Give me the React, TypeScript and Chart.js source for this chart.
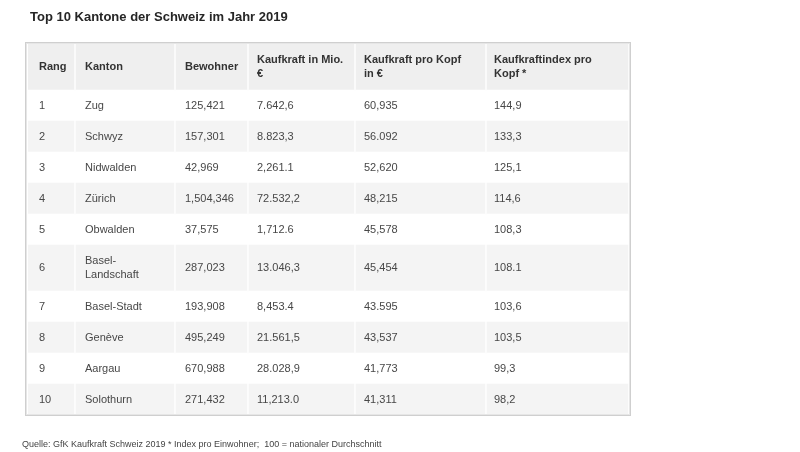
import React, { useEffect, useRef } from "react";
import { Chart, registerables } from "chart.js";

Chart.register(...registerables);

// ---- data ----
const title = "Top 10 Kantone der Schweiz im Jahr 2019";
const footnote = "Quelle: GfK Kaufkraft Schweiz 2019 * Index pro Einwohner;  100 = nationaler Durchschnitt";
const headers = [
  ["Rang"],
  ["Kanton"],
  ["Bewohner"],
  ["Kaufkraft in Mio.", "€"],
  ["Kaufkraft pro Kopf", "in €"],
  ["Kaufkraftindex pro", "Kopf *"],
];
const ranks = ["1", "2", "3", "4", "5", "6", "7", "8", "9", "10"];
const kantone = ["Zug", "Schwyz", "Nidwalden", "Zürich", "Obwalden", "Basel-\nLandschaft", "Basel-Stadt", "Genève", "Aargau", "Solothurn"];
const bewohner = ["125,421", "157,301", "42,969", "1,504,346", "37,575", "287,023", "193,908", "495,249", "670,988", "271,432"];
const kaufkraftMio = ["7.642,6", "8.823,3", "2,261.1", "72.532,2", "1,712.6", "13.046,3", "8,453.4", "21.561,5", "28.028,9", "11,213.0"];
const kaufkraftProKopf = ["60,935", "56.092", "52,620", "48,215", "45,578", "45,454", "43.595", "43,537", "41,773", "41,311"];
const kaufkraftIndex = ["144,9", "133,3", "125,1", "114,6", "108,3", "108.1", "103,6", "103,5", "99,3", "98,2"];

// ---- layout (not data) ----
const colEdges = [0, 48, 148, 221, 328, 459, 602];
const colPad = [11, 9, 9, 8, 8, 7];
const rowHeights = [46, 31, 31, 31, 31, 31, 46, 31, 31, 31, 31];
const cellGap = 2;
const FONT = "'Liberation Sans', Arial, Helvetica, sans-serif";

const columns = [ranks, kantone, bewohner, kaufkraftMio, kaufkraftProKopf, kaufkraftIndex];

export default function App() {
  const ref = useRef<HTMLCanvasElement | null>(null);

  useEffect(() => {
    if (!ref.current) return;
    const rowEdges: number[] = [0];
    rowHeights.forEach((h, i) => rowEdges.push(rowEdges[i] + h));
    const total = rowEdges[rowEdges.length - 1];

    const datasets = columns.map((col, c) => {
      const w = colEdges[c + 1] - colEdges[c] - cellGap;
      const cx = colEdges[c] + w / 2;
      const cells = [headers[c].join("\n"), ...col];
      return {
        label: headers[c].join(" "),
        data: cells.map((_, r) => ({ x: cx, y: [rowEdges[r], rowEdges[r + 1]] })),
        cellText: cells,
        cellPad: colPad[c],
        barThickness: w,
        grouped: false,
        borderWidth: 0,
        borderSkipped: false,
        backgroundColor: (ctx: any) =>
          ctx.dataIndex === 0 ? "#efefef" : ctx.dataIndex % 2 === 0 ? "#f4f4f4" : "#ffffff",
      };
    });

    const tablePlugin = {
      id: "tableText",
      beforeDatasetsDraw(chart: any) {
        const { ctx, chartArea } = chart;
        ctx.save();
        ctx.fillStyle = "#ffffff";
        ctx.fillRect(chartArea.left, chartArea.top, chartArea.right - chartArea.left, chartArea.bottom - chartArea.top);
        ctx.restore();
      },
      afterDatasetsDraw(chart: any) {
        const { ctx, chartArea } = chart;
        ctx.save();
        // outer border
        ctx.lineWidth = 1;
        ctx.strokeStyle = "#cfcfcf";
        ctx.strokeRect(chartArea.left - 2.5, chartArea.top - 1.5, chartArea.right - chartArea.left + 3, chartArea.bottom - chartArea.top + 2);
        ctx.strokeStyle = "#e6e6e6";
        ctx.strokeRect(chartArea.left - 1.5, chartArea.top - 0.5, chartArea.right - chartArea.left + 1, chartArea.bottom - chartArea.top);

        ctx.textBaseline = "middle";
        ctx.textAlign = "left";
        chart.data.datasets.forEach((ds: any, di: number) => {
          const meta = chart.getDatasetMeta(di);
          meta.data.forEach((el: any, r: number) => {
            const left = el.x - el.width / 2;
            const cy = (el.y + el.base) / 2;
            const lines = String(ds.cellText[r]).split("\n");
            const lh = 14;
            if (r === 0) {
              ctx.font = `bold 11px ${FONT}`;
              ctx.fillStyle = "#333333";
            } else {
              ctx.font = `11px ${FONT}`;
              ctx.fillStyle = "#474747";
            }
            lines.forEach((ln, k) => {
              ctx.fillText(ln, left + ds.cellPad, cy + (k - (lines.length - 1) / 2) * lh);
            });
          });
        });

        // title and footnote
        ctx.fillStyle = "#262626";
        ctx.font = `bold 13px ${FONT}`;
        ctx.fillText(title, 30, 17);
        ctx.fillStyle = "#444444";
        ctx.font = `9px ${FONT}`;
        ctx.fillText(footnote, 22, 445);
        ctx.restore();
      },
    };

    const chart = new Chart(ref.current, {
      type: "bar",
      data: { datasets: datasets as any },
      options: {
        animation: false,
        responsive: false,
        devicePixelRatio: 1,
        events: [],
        layout: { padding: { left: 28, right: 170, top: 44, bottom: 37 } },
        plugins: { legend: { display: false }, tooltip: { enabled: false }, title: { display: false } },
        scales: {
          x: { type: "linear", min: 0, max: colEdges[colEdges.length - 1], display: false, offset: false },
          y: { type: "linear", min: 0, max: total, reverse: true, display: false },
        },
      },
      plugins: [tablePlugin],
    });
    return () => chart.destroy();
  }, []);

  return (
    <div style={{ position: "fixed", left: 0, top: 0, width: 800, height: 452, background: "#ffffff" }}>
      <canvas ref={ref} width={800} height={452} style={{ display: "block", width: 800, height: 452 }} />
    </div>
  );
}
